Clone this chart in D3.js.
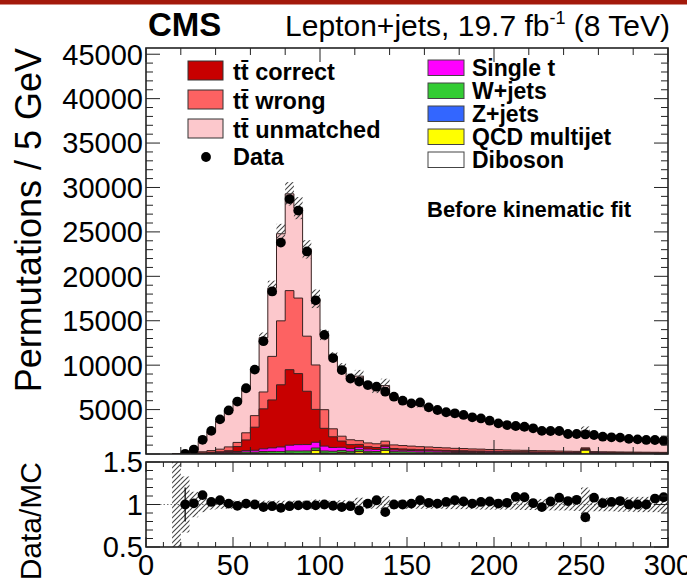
<!DOCTYPE html>
<html><head><meta charset="utf-8">
<script src="https://cdn.jsdelivr.net/npm/d3@7"></script>
<style>
body{margin:0;background:#fff}
svg{display:block}
text{font-family:"Liberation Sans",Arial,Helvetica,sans-serif;fill:#000}
</style>
</head><body>
<svg id="c" width="687" height="583"></svg>
<script>
// ---- data (bins of 5 GeV starting at 15 GeV) ----
const binStart = 15, binWidth = 5;
const data = [0, 25,500,1600,2600,3900,4900,5900,7400,9500,12700, 18300,23800,28700,27400,22800,17300,13400,10800,9450,8500, 8150,7760,7575,7010,6450,6000,5700,5800,5250,4950, 4700,4580,4400,4130,4000,3750,3450,3260,3150,3070, 2890,2600,2590,2590,2250,2250,2200,2140,1950,1880, 1840,1700,1650,1580,1575,1500];
const diboson = [0, 0,1,2,2,3,4,5,5,6,7, 8,8,9,9,9,9,8,8,8,7, 7,7,6,6,6,6,5,5,5,5, 5,4,4,4,4,4,4,3,3,3, 3,3,3,3,2,2,2,2,2,2, 2,2,2,2,2,2];
const qcd = [0, 0,0,0,20,0,30,0,40,0,60, 40,0,50,30,40,380,60,40,150,60, 250,80,60,400,50,40,30,20,30,20, 20,10,20,10,20,10,20,10,10,20, 10,10,20,10,10,10,420,10,10,10, 10,10,10,10,10,10];
const zJets = [0, 1,5,8,10,12,15,18,20,22,25, 28,30,32,33,33,32,30,28,27,26, 25,24,23,22,21,20,19,18,17,16, 15,14,14,13,12,12,11,11,10,10, 9,9,8,8,8,7,7,7,6,6, 6,5,5,5,5,4];
const wJets = [0, 3,30,50,70,90,110,130,150,170,190, 210,230,250,260,260,250,240,230,220,210, 200,195,190,185,180,175,170,165,160,155, 150,145,140,135,130,125,120,115,110,105, 100,96,92,88,84,80,76,72,69,66, 63,60,57,55,52,50];
const singleTop = [0, 2,20,40,60,80,100,130,170,220,300, 400,520,650,720,720,650,550,430,350,300, 270,250,230,210,195,180,170,160,150,140, 130,120,112,105,98,92,86,80,75,70, 66,62,58,55,52,49,46,44,42,40, 38,36,34,32,30,29];
const ttCorrect = [0, 0,5,15,30,60,110,550,1200,2600,4500, 5400,7000,8500,8000,6000,3700,2000,1200,700,450, 330,260,220,190,170,150,135,120,110,100, 90,80,75,70,65,60,55,50,46,42, 40,37,35,32,30,28,27,25,24,22, 21,20,19,18,17,16];
const ttWrong = [0, 5,90,135,190,300,430,470,800,1300,1900, 4900,7200,8900,8500,6200,5000,2100,900,550,550, 420,430,420,430,400,380,360,340,320,300, 280,265,250,235,220,205,195,185,175,165, 155,147,140,133,126,120,114,108,102,97, 92,88,84,80,76,72];
const ttUnmatched = [8, 14,342,1191,2142,3169,4052,4687,4942,5182,6111, 7687,9804,10895,10125,9768,7454,8412,8128,7737,7070, 7261,6437,6065,6260,5428,5049,4755,4696,4355,4165, 3873,3724,3636,3517,3334,3115,2925,2742,2461,2414, 2464,2316,2146,2069,1851,1837,1896,1713,1666,1582, 1537,1479,1439,1378,1280,1199];
const relUnc = [1.5, 0.33,0.15,0.09,0.06,0.05,0.05,0.045,0.045,0.045,0.045, 0.045,0.045,0.045,0.045,0.045,0.06,0.045,0.045,0.05,0.045, 0.08,0.05,0.05,0.1,0.05,0.05,0.05,0.05,0.05,0.05, 0.055,0.055,0.055,0.055,0.06,0.06,0.06,0.06,0.06,0.065, 0.065,0.065,0.07,0.07,0.07,0.075,0.2,0.08,0.08,0.08, 0.085,0.085,0.09,0.09,0.09,0.095];

const yTickLabels = [5000,10000,15000,20000,25000,30000,35000,40000,45000];
const xTickLabels = [0,50,100,150,200,250,300];
const ratioTickLabels = [0.5,1,1.5];

const legendLeft = [
  {key:"ttCorrect", label:"tt\u0304 correct", color:"#c80000"},
  {key:"ttWrong", label:"tt\u0304 wrong", color:"#fd6262"},
  {key:"ttUnmatched", label:"tt\u0304 unmatched", color:"#fcc8cc"}
];
const legendRight = [
  {key:"singleTop", label:"Single t", color:"#ff00ff"},
  {key:"wJets", label:"W+jets", color:"#33cc33"},
  {key:"zJets", label:"Z+jets", color:"#3366ff"},
  {key:"qcd", label:"QCD multijet", color:"#ffff00"},
  {key:"diboson", label:"Diboson", color:"#ffffff"}
];
const colors = {};
legendLeft.concat(legendRight).forEach(d => colors[d.key] = d.color);
const series = {diboson, qcd, zJets, wJets, singleTop, ttCorrect, ttWrong, ttUnmatched};
const stackKeys = ["diboson","qcd","zJets","wJets","singleTop","ttCorrect","ttWrong","ttUnmatched"];

// ---- layout ----
const L = 146, R = 668, T1 = 48, B1 = 454, T2 = 462, B2 = 547;
const svg = d3.select("#c");
const x = d3.scaleLinear().domain([0,300]).range([L,R]);
const y = d3.scaleLinear().domain([0,45700]).range([B1,T1]);
const yr = d3.scaleLinear().domain([0.5,1.5]).range([B2,T2]);

const rows = data.map((d,i) => {
  const o = {lo: binStart + i*binWidth, hi: binStart + (i+1)*binWidth, data: d, unc: relUnc[i]};
  stackKeys.forEach(k => o[k] = series[k][i]);
  return o;
});
const stacked = d3.stack().keys(stackKeys)(rows);
rows.forEach((r,i) => { r.total = stacked[stacked.length-1][i][1]; });

// top red strip
svg.append("rect").attr("x",0).attr("y",0).attr("width",687).attr("height",4.5).attr("fill","#a3190b");

const defs = svg.append("defs");
defs.append("clipPath").attr("id","clipU").append("rect").attr("x",L).attr("y",T1).attr("width",R-L).attr("height",B1-T1);
defs.append("clipPath").attr("id","clipL").append("rect").attr("x",L).attr("y",T2).attr("width",R-L).attr("height",B2-T2);
const pat = defs.append("pattern").attr("id","hatch").attr("patternUnits","userSpaceOnUse").attr("width",5).attr("height",5);
pat.append("path").attr("d","M-1,1 l2,-2 M0,5 l5,-5 M4,6 l2,-2").attr("stroke","#444").attr("stroke-width",1.1);

// ---- upper panel ----
const gU = svg.append("g").attr("clip-path","url(#clipU)");
const area = d3.area().x(d=>d[0]).y0(d=>d[2]).y1(d=>d[1]);
const line = d3.line().x(d=>d[0]).y(d=>d[1]);
// draw from top layer downwards (ROOT style)
for (let s = stacked.length-1; s >= 0; s--) {
  const layer = stacked[s];
  const pts = [];
  layer.forEach((d,i) => { const r = rows[i]; pts.push([x(r.lo), y(d[1]), y(0)]); pts.push([x(r.hi), y(d[1]), y(0)]); });
  gU.append("path").attr("d", area(pts)).attr("fill", colors[layer.key]).attr("stroke","none");
  gU.append("path").attr("d", line(pts)).attr("fill","none").attr("stroke","#3a2222").attr("stroke-width",1);
}
// MC uncertainty hatch
gU.selectAll("rect.unc").data(rows).join("rect").attr("class","unc")
  .attr("x", d => x(d.lo)).attr("width", d => x(d.hi)-x(d.lo))
  .attr("y", d => y(d.total*(1+d.unc))).attr("height", d => y(d.total*(1-d.unc)) - y(d.total*(1+d.unc)))
  .attr("fill","url(#hatch)");
// data
const dPts = rows.filter(d => d.data > 0);
gU.selectAll("line.err").data(dPts).join("line").attr("class","err")
  .attr("x1", d => x((d.lo+d.hi)/2)).attr("x2", d => x((d.lo+d.hi)/2))
  .attr("y1", d => y(d.data - Math.sqrt(d.data))).attr("y2", d => y(d.data + Math.sqrt(d.data)))
  .attr("stroke","#000").attr("stroke-width",1.2);
gU.selectAll("circle.dat").data(dPts).join("circle").attr("class","dat")
  .attr("cx", d => x((d.lo+d.hi)/2)).attr("cy", d => y(d.data)).attr("r",4.9).attr("fill","#000");

// ---- lower panel ----
const gL = svg.append("g").attr("clip-path","url(#clipL)");
gL.append("line").attr("x1",L).attr("x2",R).attr("y1",yr(1)).attr("y2",yr(1))
  .attr("stroke","#777").attr("stroke-width",1).attr("stroke-dasharray","1.5,2");
gL.selectAll("rect.unc").data(rows).join("rect").attr("class","unc")
  .attr("x", d => x(d.lo)).attr("width", d => x(d.hi)-x(d.lo))
  .attr("y", d => yr(1+d.unc)).attr("height", d => yr(1-d.unc) - yr(1+d.unc))
  .attr("fill","url(#hatch)");
gL.selectAll("line.err").data(dPts).join("line").attr("class","err")
  .attr("x1", d => x((d.lo+d.hi)/2)).attr("x2", d => x((d.lo+d.hi)/2))
  .attr("y1", d => yr((d.data - Math.sqrt(d.data))/d.total)).attr("y2", d => yr((d.data + Math.sqrt(d.data))/d.total))
  .attr("stroke","#000").attr("stroke-width",1.2);
gL.selectAll("circle.dat").data(dPts).join("circle").attr("class","dat")
  .attr("cx", d => x((d.lo+d.hi)/2)).attr("cy", d => yr(d.data/d.total)).attr("r",4.9).attr("fill","#000");

// ---- frames and ticks ----
const axG = svg.append("g").attr("stroke","#222");
function ticksX(vals, yb, yt, len) {
  vals.forEach(v => {
    axG.append("line").attr("x1",x(v)).attr("x2",x(v)).attr("y1",yb).attr("y2",yb-len).attr("stroke-width",1);
    axG.append("line").attr("x1",x(v)).attr("x2",x(v)).attr("y1",yt).attr("y2",yt+len).attr("stroke-width",1);
  });
}
function ticksY(scale, vals, len) {
  vals.forEach(v => {
    axG.append("line").attr("x1",L).attr("x2",L+len).attr("y1",scale(v)).attr("y2",scale(v)).attr("stroke-width",1);
    axG.append("line").attr("x1",R).attr("x2",R-len).attr("y1",scale(v)).attr("y2",scale(v)).attr("stroke-width",1);
  });
}
// upper panel
ticksX(d3.range(0,301,20).filter(v => v%100 !== 0), B1, T1, 7);
ticksX([0,100,200,300], B1, T1, 14);
ticksY(y, d3.range(0,45001,1000).filter(v => v%5000 !== 0), 7);
ticksY(y, d3.range(0,45001,5000), 14);
// lower panel
ticksX(d3.range(0,301,10).filter(v => v%50 !== 0), B2, T2, 5);
ticksX(xTickLabels, B2, T2, 10);
ticksY(yr, d3.range(0.6,1.45,0.1), 7);
ticksY(yr, ratioTickLabels, 14);
axG.append("rect").attr("x",L).attr("y",T1).attr("width",R-L).attr("height",B1-T1).attr("fill","none").attr("stroke-width",1.6);
axG.append("rect").attr("x",L).attr("y",T2).attr("width",R-L).attr("height",B2-T2).attr("fill","none").attr("stroke-width",1.6);

// tick labels
const fsTick = 29;
svg.selectAll("text.yl").data(yTickLabels).join("text").attr("class","yl")
  .attr("x", L-3).attr("y", d => y(d)).attr("dy","0.36em").attr("text-anchor","end")
  .attr("font-size",fsTick).text(d => d);
svg.selectAll("text.rl").data(ratioTickLabels).join("text").attr("class","rl")
  .attr("x", L-3).attr("y", d => yr(d)).attr("dy","0.36em").attr("text-anchor","end")
  .attr("font-size",fsTick).text(d => d);
svg.selectAll("text.xl").data(xTickLabels).join("text").attr("class","xl")
  .attr("x", d => x(d)).attr("y", 575).attr("text-anchor","middle")
  .attr("font-size",fsTick).text(d => d);

// axis titles
svg.append("text").attr("transform","translate(41,48) rotate(-90)").attr("text-anchor","end")
  .attr("font-size",36).text("Permutations / 5 GeV");
svg.append("text").attr("transform","translate(41,462) rotate(-90)").attr("text-anchor","end")
  .attr("font-size",30).text("Data/MC");

// header
svg.append("text").attr("x",148).attr("y",36).attr("font-size",33).attr("font-weight","bold").text("CMS");
const hdr = svg.append("text").attr("x",670).attr("y",36).attr("text-anchor","end").attr("font-size",30);
hdr.append("tspan").text("Lepton+jets, 19.7 fb");
hdr.append("tspan").attr("font-size",18).attr("dy",-12).text("-1");
hdr.append("tspan").attr("dy",12).text(" (8 TeV)");

// legend left
const lg = svg.append("g");
legendLeft.forEach((d,i) => {
  const yt = 61 + i*29;
  lg.append("rect").attr("x",188).attr("y",yt).attr("width",35).attr("height",19)
    .attr("fill",d.color).attr("stroke","#333").attr("stroke-width",1);
  lg.append("text").attr("x",233).attr("y",yt+19).attr("font-size",23.5).attr("font-weight","bold").text(d.label);
});
lg.append("circle").attr("cx",206).attr("cy",157).attr("r",4.9).attr("fill","#000");
lg.append("text").attr("x",233).attr("y",165).attr("font-size",23.5).attr("font-weight","bold").text("Data");
// legend right
legendRight.forEach((d,i) => {
  const yt = 60 + i*23;
  lg.append("rect").attr("x",428).attr("y",yt).attr("width",36).attr("height",15.5)
    .attr("fill",d.color).attr("stroke","#444").attr("stroke-width",1);
  lg.append("text").attr("x",472).attr("y",yt+16).attr("font-size",23).attr("font-weight","bold").text(d.label);
});
svg.append("text").attr("x",427).attr("y",217).attr("font-size",22).attr("font-weight","bold").text("Before kinematic fit");
</script>
</body></html>
